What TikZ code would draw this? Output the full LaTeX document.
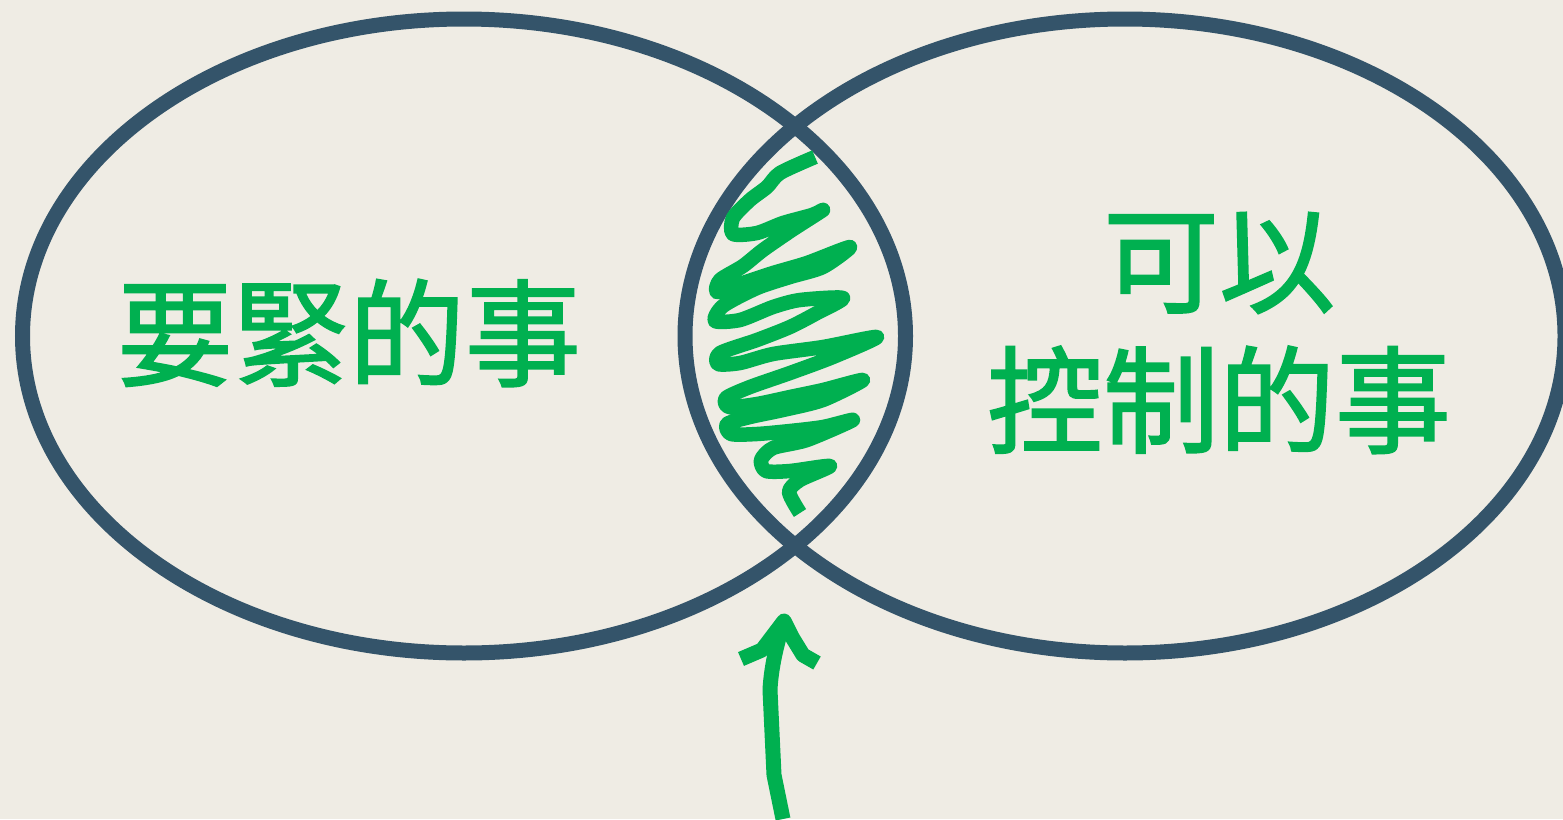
\documentclass[tikz,border=0pt]{standalone}
\usepackage{fontspec}
\newfontfamily\cjk{Noto Sans CJK TC}[FakeBold=1.6]
\usetikzlibrary{shapes.geometric}
\definecolor{bgc}{HTML}{EFECE4}
\definecolor{ringc}{HTML}{34546A}
\definecolor{grn}{HTML}{00B050}
\tikzset{
  ring/.style={draw=ringc, line width=15pt, ellipse, inner sep=0pt, outer sep=0pt},
  label/.style={text=grn, font=\cjk\fontsize{116pt}{140pt}\selectfont, align=center, inner sep=0pt},
  scribble/.style={draw=grn, line width=14.5pt, line cap=butt, line join=round},
  arrowline/.style={draw=grn, line width=15pt, line cap=butt, line join=round}
}
\begin{document}
\begin{tikzpicture}[x=1pt,y=-1pt]
\fill[bgc] (0,0) rectangle (1563,819);
\useasboundingbox (0,0) rectangle (1563,819);
\node[ring, minimum width=883pt, minimum height=634pt] (L) at (464,336) {};
\node[ring, minimum width=880pt, minimum height=634pt] (R) at (1125,336) {};
\node[label] (T1) at (349,333) {要緊的事};
\node[label] (T2) at (1219,333) {可以\\控制的事};
% scribble
\draw[scribble] plot[smooth, tension=0.45] coordinates {
(815,157) (780,173) (767,187) (750,200) (733,218) (733,234)
(757,233) (783,223) (812,215) (823,210)
(792,230) (763,250) (743,266) (720,280) (717,292)
(740,284) (773,273) (807,263) (850,247)
(823,267) (790,277) (757,288) (723,306) (715,321)
(740,320) (773,307) (800,300) (843,298)
(817,313) (790,327) (757,340) (720,353) (718,364)
(740,363) (773,354) (823,347) (877,337)
(833,357) (790,373) (750,387) (726,398) (729,407)
(757,404) (790,397) (823,390) (863,380)
(823,400) (783,410) (750,417) (727,424) (731,434)
(757,434) (790,431) (823,427) (853,420)
(807,440) (773,448) (761,460) (766,471)
(790,471) (830,466)
(800,480) (789,492) (800,513)};
% arrow
\coordinate (A0) at (783,819);
\coordinate (A1) at (784,621);
\draw[arrowline] (A0) -- (774,775) -- (770,690) .. controls (771,668) and (777,642) .. (A1);
\draw[arrowline] (741,659) -- (762,650) -- (A1) -- (792,637) -- (803,655) -- (817,663);
\end{tikzpicture}
\end{document}
